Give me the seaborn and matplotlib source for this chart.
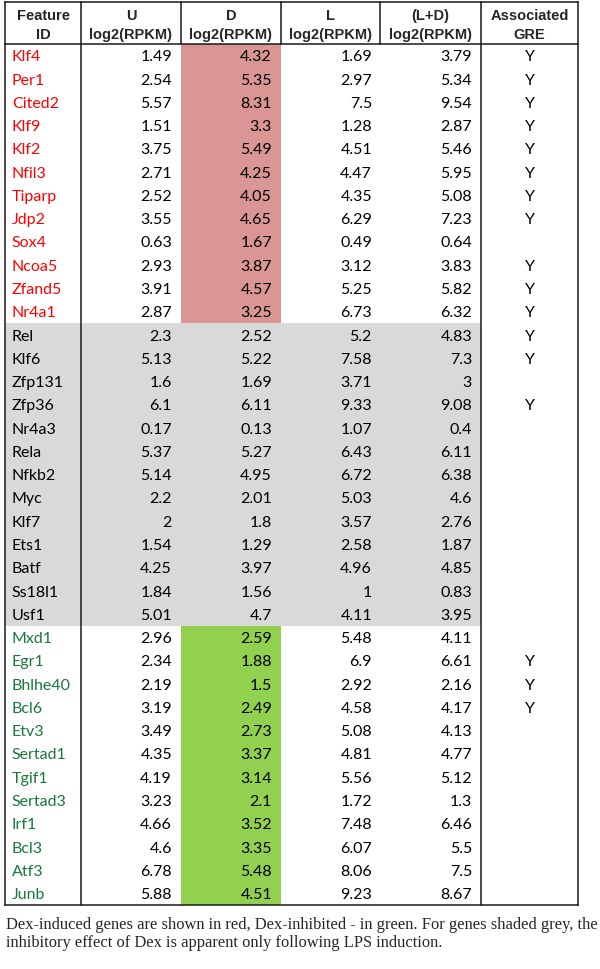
import numpy as np
import pandas as pd
import matplotlib
matplotlib.use('Agg')
import matplotlib.pyplot as plt
from matplotlib.colors import ListedColormap
import seaborn as sns

# Dex-induced genes (red)
induced_genes = ['Klf4', 'Per1', 'Cited2', 'Klf9', 'Klf2', 'Nfil3', 'Tiparp', 'Jdp2', 'Sox4', 'Ncoa5', 'Zfand5', 'Nr4a1']
induced_u = [1.49, 2.54, 5.57, 1.51, 3.75, 2.71, 2.52, 3.55, 0.63, 2.93, 3.91, 2.87]
induced_d = [4.32, 5.35, 8.31, 3.3, 5.49, 4.25, 4.05, 4.65, 1.67, 3.87, 4.57, 3.25]
induced_l = [1.69, 2.97, 7.5, 1.28, 4.51, 4.47, 4.35, 6.29, 0.49, 3.12, 5.25, 6.73]
induced_ld = [3.79, 5.34, 9.54, 2.87, 5.46, 5.95, 5.08, 7.23, 0.64, 3.83, 5.82, 6.32]
induced_gre = ['Y', 'Y', 'Y', 'Y', 'Y', 'Y', 'Y', 'Y', '', 'Y', 'Y', 'Y']

# genes shaded grey (inhibition only after LPS)
grey_genes = ['Rel', 'Klf6', 'Zfp131', 'Zfp36', 'Nr4a3', 'Rela', 'Nfkb2', 'Myc', 'Klf7', 'Ets1', 'Batf', 'Ss18l1', 'Usf1']
grey_u = [2.3, 5.13, 1.6, 6.1, 0.17, 5.37, 5.14, 2.2, 2, 1.54, 4.25, 1.84, 5.01]
grey_d = [2.52, 5.22, 1.69, 6.11, 0.13, 5.27, 4.95, 2.01, 1.8, 1.29, 3.97, 1.56, 4.7]
grey_l = [5.2, 7.58, 3.71, 9.33, 1.07, 6.43, 6.72, 5.03, 3.57, 2.58, 4.96, 1, 4.11]
grey_ld = [4.83, 7.3, 3, 9.08, 0.4, 6.11, 6.38, 4.6, 2.76, 1.87, 4.85, 0.83, 3.95]
grey_gre = ['Y', 'Y', '', 'Y', '', '', '', '', '', '', '', '', '']

# Dex-inhibited genes (green)
inhibited_genes = ['Mxd1', 'Egr1', 'Bhlhe40', 'Bcl6', 'Etv3', 'Sertad1', 'Tgif1', 'Sertad3', 'Irf1', 'Bcl3', 'Atf3', 'Junb']
inhibited_u = [2.96, 2.34, 2.19, 3.19, 3.49, 4.35, 4.19, 3.23, 4.66, 4.6, 6.78, 5.88]
inhibited_d = [2.59, 1.88, 1.5, 2.49, 2.73, 3.37, 3.14, 2.1, 3.52, 3.35, 5.48, 4.51]
inhibited_l = [5.48, 6.9, 2.92, 4.58, 5.08, 4.81, 5.56, 1.72, 7.48, 6.07, 8.06, 9.23]
inhibited_ld = [4.11, 6.61, 2.16, 4.17, 4.13, 4.77, 5.12, 1.3, 6.46, 5.5, 7.5, 8.67]
inhibited_gre = ['', 'Y', 'Y', 'Y', '', '', '', '', '', '', '', '']

value_cols = ['U', 'D', 'L', 'L+D']
header_labels = ['Feature\nID', 'U\nlog2(RPKM)', 'D\nlog2(RPKM)', 'L\nlog2(RPKM)',
                 '(L+D)\nlog2(RPKM)', 'Associated\nGRE']
caption = ('Dex-induced genes are shown in red, Dex-inhibited - in green. For genes shaded grey, the\n'
           'inhibitory effect of Dex is apparent only following LPS induction.')

WHITE = '#FFFFFF'
RED_FILL = '#DA9694'
GREY_FILL = '#D9D9D9'
GREEN_FILL = '#92D050'
RED_TEXT = '#FF0000'
GREEN_TEXT = '#17793A'
LINE = '#1A1A1A'


def make_group(genes, u, d, l, ld, gre, group):
    return pd.DataFrame({'gene': genes, 'U': u, 'D': d, 'L': l, 'L+D': ld, 'GRE': gre, 'group': group})


df = pd.concat([
    make_group(induced_genes, induced_u, induced_d, induced_l, induced_ld, induced_gre, 'induced'),
    make_group(grey_genes, grey_u, grey_d, grey_l, grey_ld, grey_gre, 'grey'),
    make_group(inhibited_genes, inhibited_u, inhibited_d, inhibited_l, inhibited_ld, inhibited_gre, 'inhibited'),
], ignore_index=True)

# fill codes: 0 white, 1 red, 2 grey, 3 green
is_grey = (df['group'] == 'grey').astype(int) * 2
id_codes = pd.DataFrame({'gene': is_grey})
val_codes = pd.DataFrame({c: is_grey for c in value_cols})
val_codes['D'] = df['group'].map({'induced': 1, 'grey': 2, 'inhibited': 3})
gre_codes = pd.DataFrame({'GRE': np.zeros(len(df), dtype=int)})
text_color = df['group'].map({'induced': RED_TEXT, 'grey': 'black', 'inhibited': GREEN_TEXT})

sns.set_theme(style='white')
plt.rcParams['font.family'] = ['Lato', 'DejaVu Sans']

W, H = 600, 970
fig = plt.figure(figsize=(W / 100, H / 100), dpi=100)
fig.patch.set_facecolor('white')


def px_axes(x0, y0, x1, y1, **kw):
    return fig.add_axes([x0 / W, 1 - y1 / H, (x1 - x0) / W, (y1 - y0) / H], **kw)


cmap = ListedColormap([WHITE, RED_FILL, GREY_FILL, GREEN_FILL])
heat_kw = dict(cmap=cmap, vmin=-0.5, vmax=3.5, cbar=False, xticklabels=False, yticklabels=False)

X_EDGES = [5, 81, 181, 281, 380, 481, 578]
Y_TOP, Y_HEAD, Y_BOT = 3, 45, 906

ax_id = px_axes(X_EDGES[0], Y_HEAD, X_EDGES[1], Y_BOT)
sns.heatmap(id_codes, ax=ax_id, **heat_kw)
ax_val = px_axes(X_EDGES[1], Y_HEAD, X_EDGES[5], Y_BOT)
sns.heatmap(val_codes, ax=ax_val, **heat_kw)
ax_gre = px_axes(X_EDGES[5], Y_HEAD, X_EDGES[6], Y_BOT)
sns.heatmap(gre_codes, ax=ax_gre, **heat_kw)

body_size = 11.5
for i, row in df.iterrows():
    ax_id.text(0.09, i + 0.53, row['gene'], ha='left', va='center', fontsize=body_size, color=text_color[i])
    for j, c in enumerate(value_cols):
        ax_val.text(j + 0.91, i + 0.53, f"{row[c]:g}", ha='right', va='center', fontsize=body_size, color='black')
    ax_gre.text(0.5, i + 0.53, row['GRE'], ha='center', va='center', fontsize=body_size, color='black')

# overlay in pixel coordinates for header, borders and caption
ov = fig.add_axes([0, 0, 1, 1], facecolor='none')
ov.set_xlim(0, W)
ov.set_ylim(H, 0)
ov.axis('off')

lw = 1.1
for y in (Y_TOP, Y_HEAD, Y_BOT):
    ov.plot([X_EDGES[0], X_EDGES[-1]], [y, y], color=LINE, lw=lw, solid_capstyle='projecting')
for k, x in enumerate(X_EDGES):
    y_end = Y_BOT if k in (0, 1, 5, 6) else Y_HEAD
    ov.plot([x, x], [Y_TOP, y_end], color=LINE, lw=lw, solid_capstyle='projecting')

for k, lab in enumerate(header_labels):
    xc = (X_EDGES[k] + X_EDGES[k + 1]) / 2
    top, bottom = lab.split('\n')
    ov.text(xc, 16, top, ha='center', va='center', fontsize=10.5, fontweight='bold',
            family=['Liberation Sans', 'DejaVu Sans'])
    ov.text(xc, 35, bottom, ha='center', va='center', fontsize=10.5, fontweight='bold',
            family=['Liberation Sans', 'DejaVu Sans'])

ov.text(6, 917, caption, ha='left', va='top', fontsize=11.9, linespacing=1.2,
        family=['Liberation Serif', 'DejaVu Serif'])

fig.savefig('out.png', dpi=100, facecolor='white')
